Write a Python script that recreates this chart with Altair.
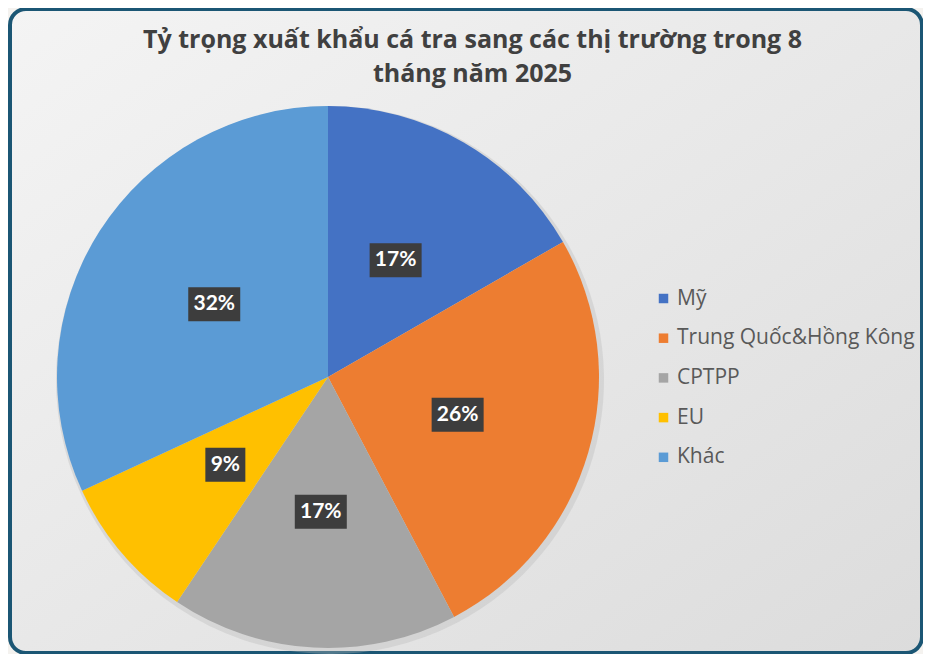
import math
import altair as alt
import pandas as pd

# ---- data ----
categories = ["Mỹ", "Trung Quốc&Hồng Kông", "CPTPP", " EU", "Khác"]
shares = [16.7, 25.6, 17.1, 8.7, 31.9]
labels = ["17%", "26%", "17%", "9%", "32%"]
colors = ["#4472C4", "#ED7D31", "#A5A5A5", "#FFC000", "#5B9BD5"]
title_lines = ["Tỷ trọng xuất khẩu cá tra sang các thị trường trong 8", "tháng năm 2025"]

# ---- layout ----
W, H = 915, 646
CX, CY, R = 320, 369, 271
LR = 135
FONT = "Lato"
TFONT = "Open Sans"

df = pd.DataFrame({"market": categories, "share": shares, "label": labels,
                   "order": list(range(len(categories)))})
base = alt.Chart(df)

xs = alt.Scale(domain=[0, W], range=[0, W], nice=False, zero=False)
ys = alt.Scale(domain=[0, H], range=[0, H], nice=False, zero=False)

frame = alt.Chart(pd.DataFrame({"k": [0]})).mark_rect(
    cornerRadius=16,
    stroke="#1b5674",
    strokeWidth=4,
    fill=alt.Gradient(
        gradient="linear",
        stops=[alt.GradientStop(color="#f4f4f4", offset=0),
               alt.GradientStop(color="#dcdcdc", offset=1)],
        x1=0, y1=0, x2=1, y2=1,
    ),
).encode(x=alt.value(2), x2=alt.value(W - 1), y=alt.value(1), y2=alt.value(H - 1))

shadow = base.mark_arc(outerRadius=R + 3, color="#b8b8b8", opacity=0.35).encode(
    theta=alt.Theta("share:Q", stack=True),
    order=alt.Order("order:Q"),
    x=alt.value(CX + 2),
    y=alt.value(CY + 3),
)

pie = base.mark_arc(outerRadius=R).encode(
    theta=alt.Theta("share:Q", stack=True),
    color=alt.Color(
        "market:N",
        scale=alt.Scale(domain=categories, range=colors),
        sort=categories,
        legend=alt.Legend(
            title=None, orient="none", legendX=645, legendY=280,
            symbolType="square", symbolSize=90, symbolStrokeWidth=0,
            labelFontSize=21, labelFont=TFONT, labelColor="#595959",
            labelLimit=400, rowPadding=17.7, labelOffset=3, padding=0,
        ),
    ),
    order=alt.Order("order:Q"),
    x=alt.value(CX),
    y=alt.value(CY),
)

lab = base.transform_joinaggregate(total="sum(share)").transform_window(
    cum="sum(share)", sort=[alt.SortField("order")], frame=[None, 0]
).transform_calculate(
    mid="(datum.cum - datum.share/2)/datum.total*2*PI",
    lx=f"{CX}+{LR}*sin(datum.mid)",
    ly=f"{CY}-{LR}*cos(datum.mid)",
    hw="length(datum.label)*6+8",
).transform_calculate(
    x1="datum.lx-datum.hw", x2="datum.lx+datum.hw",
    y1="datum.ly-17", y2="datum.ly+17",
)

boxes = lab.mark_rect(color="#3d3d3d").encode(
    x=alt.X("x1:Q", scale=xs, axis=None), x2="x2:Q",
    y=alt.Y("y1:Q", scale=ys, axis=None), y2="y2:Q",
)
texts = lab.mark_text(color="white", fontWeight="bold", fontSize=21, font=FONT).encode(
    x=alt.X("lx:Q", scale=xs, axis=None),
    y=alt.Y("ly:Q", scale=ys, axis=None),
    text="label:N",
)

chart = alt.layer(frame, shadow, pie, boxes, texts).properties(
    width=W, height=H,
    autosize=alt.AutoSizeParams(type="none"),
    padding=0,
    background="#f4f2ef",
    title=alt.TitleParams(
        text=title_lines, anchor="middle", baseline="top", offset=0, dy=80, dx=7,
        fontSize=25, font=TFONT, fontWeight="bold", color="#404040", lineHeight=34,
    ),
).configure_view(stroke=None)

chart.save("out.html", embed_options={"renderer": "svg", "actions": False})
